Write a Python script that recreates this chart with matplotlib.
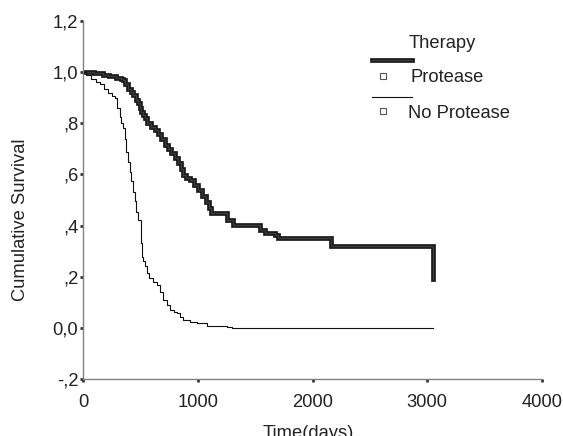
import matplotlib
matplotlib.use("Agg")
import matplotlib.pyplot as plt
from matplotlib.lines import Line2D

plt.rcParams['font.family'] = ['Liberation Sans', 'DejaVu Sans']

# Protease group (thick line): event times (days) and survival after event
prot_t = [0, 100, 174, 230, 290, 330, 348, 370, 392, 415, 436, 458, 479, 495,
          508, 522, 537, 560, 595, 625, 653, 680, 711, 740, 770, 800, 828, 850,
          871, 900, 929, 965, 1002, 1040, 1074, 1095, 1118, 1251, 1310, 1540,
          1585, 1672, 1701, 2160, 3050]
prot_s = [1.0, 0.995, 0.988, 0.984, 0.979, 0.974, 0.969, 0.955, 0.936, 0.922,
          0.910, 0.893, 0.878, 0.860, 0.845, 0.832, 0.819, 0.800, 0.786, 0.773,
          0.760, 0.740, 0.715, 0.700, 0.682, 0.665, 0.643, 0.620, 0.598, 0.585,
          0.578, 0.560, 0.539, 0.515, 0.493, 0.470, 0.450, 0.422, 0.402, 0.383,
          0.370, 0.363, 0.350, 0.320, 0.190]

# No Protease group (thin line)
noprot_t = [0, 30, 70, 116, 148, 180, 218, 250, 276, 300, 319, 335, 348, 362,
            378, 392, 407, 420, 436, 450, 465, 480, 502, 508, 511, 525, 540,
            560, 578, 610, 642, 670, 700, 730, 758, 790, 816, 845, 874, 930,
            990, 1077, 1160, 1251, 1300, 3050]
noprot_s = [1.0, 0.988, 0.975, 0.962, 0.952, 0.935, 0.917, 0.905, 0.897, 0.860,
            0.826, 0.800, 0.780, 0.740, 0.689, 0.650, 0.611, 0.575, 0.533, 0.495,
            0.455, 0.420, 0.383, 0.330, 0.279, 0.260, 0.240, 0.215, 0.194, 0.180,
            0.168, 0.140, 0.109, 0.090, 0.070, 0.062, 0.057, 0.042, 0.029, 0.022,
            0.018, 0.009, 0.006, 0.003, 0.0, 0.0]

y_ticks = [-0.2, 0.0, 0.2, 0.4, 0.6, 0.8, 1.0, 1.2]
y_labels = ['-,2', '0,0', ',2', ',4', ',6', ',8', '1,0', '1,2']
x_ticks = [0, 1000, 2000, 3000, 4000]
x_labels = ['0', '1000', '2000', '3000', '4000']

FS = 13.2
TXT = '#222222'

W, H = 563, 436
fig = plt.figure(figsize=(W / 100, H / 100), dpi=100)
ax = fig.add_axes([83 / W, 1 - 379 / H, (542 - 83) / W, (379 - 21) / H])

ax.plot(prot_t, prot_s, drawstyle='steps-post', color='#1a1a1a', lw=3.4,
        solid_joinstyle='miter')
ax.plot(prot_t, prot_s, drawstyle='steps-post', color='#3c3c3c', lw=0.9,
        solid_joinstyle='miter')
ax.plot(noprot_t, noprot_s, drawstyle='steps-post', color='#111111', lw=0.8)

ax.set_xlim(0, 4000)
ax.set_ylim(-0.2, 1.2)
ax.set_xticks(x_ticks)
ax.set_xticklabels(x_labels)
ax.set_yticks(y_ticks)
ax.set_yticklabels(y_labels)

for s in ['top', 'right']:
    ax.spines[s].set_visible(False)
for s in ['left', 'bottom']:
    ax.spines[s].set_color('#808080')
    ax.spines[s].set_linewidth(1.0)

ax.tick_params(axis='both', direction='out', length=2.5, width=2.0,
               color='#333333', labelsize=FS, labelcolor=TXT)
ax.tick_params(axis='x', pad=8)
ax.tick_params(axis='y', pad=1)

ax.set_xlabel('Time(days)', fontsize=FS, color=TXT, va='center')
ax.xaxis.set_label_coords(0.49, -0.152)
ax.set_ylabel('Cumulative Survival', fontsize=FS, color=TXT, va='center')
ax.yaxis.set_label_coords(-0.137, 0.444)

# Legend (SPSS style)
def fx(x):
    return x / W

def fy(y):
    return 1 - y / H

fig.text(fx(409), fy(43), 'Therapy', fontsize=FS, color=TXT, va='center', ha='left')
fig.add_artist(Line2D([fx(372), fx(412)], [fy(60.5), fy(60.5)], color='#1a1a1a', lw=3.4,
                      transform=fig.transFigure))
fig.add_artist(Line2D([fx(372), fx(412)], [fy(60.5), fy(60.5)], color='#3c3c3c', lw=0.9,
                      transform=fig.transFigure))
fig.add_artist(Line2D([fx(383.3)], [fy(76)], marker='s', markersize=4.5, markerfacecolor='white',
                      markeredgecolor='#555555', markeredgewidth=0.8, linestyle='none',
                      transform=fig.transFigure))
fig.text(fx(410), fy(77), 'Protease', fontsize=FS, color=TXT, va='center', ha='left')
fig.add_artist(Line2D([fx(372), fx(412)], [fy(96.7), fy(96.7)], color='#111111', lw=0.8,
                      transform=fig.transFigure))
fig.add_artist(Line2D([fx(383.3)], [fy(110.7)], marker='s', markersize=4.5, markerfacecolor='white',
                      markeredgecolor='#555555', markeredgewidth=0.8, linestyle='none',
                      transform=fig.transFigure))
fig.text(fx(407.7), fy(113), 'No Protease', fontsize=FS, color=TXT, va='center', ha='left')

fig.savefig('out.png', dpi=100)
